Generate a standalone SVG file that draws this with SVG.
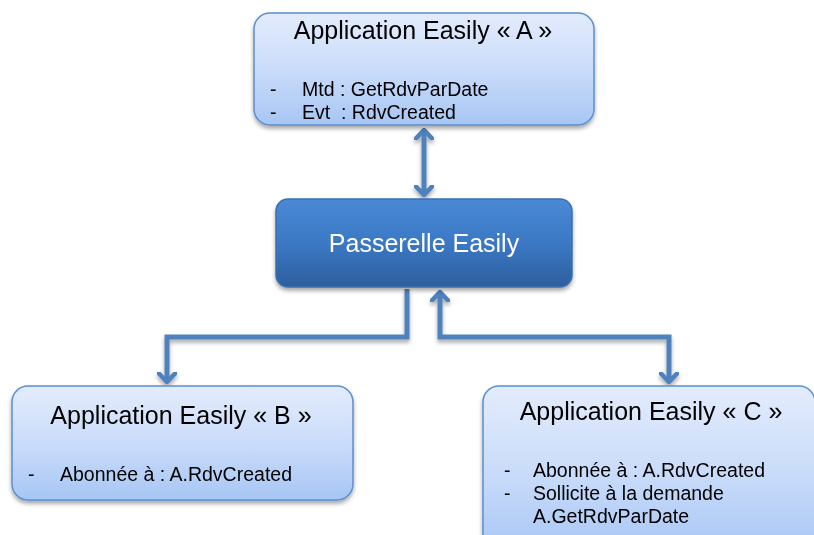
<svg xmlns="http://www.w3.org/2000/svg" width="814" height="535" viewBox="0 0 814 535">
<defs>
<linearGradient id="gLight" x1="0" y1="0" x2="0" y2="1">
<stop offset="0" stop-color="#e3ecfc"/>
<stop offset="0.5" stop-color="#cadcfa"/>
<stop offset="1" stop-color="#a7c6f4"/>
</linearGradient>
<linearGradient id="gDark" x1="0" y1="0" x2="0" y2="1">
<stop offset="0" stop-color="#4a8ad6"/>
<stop offset="0.5" stop-color="#3b78c4"/>
<stop offset="1" stop-color="#2d5f9e"/>
</linearGradient>
<filter id="sh" x="-10%" y="-10%" width="120%" height="130%">
<feGaussianBlur in="SourceAlpha" stdDeviation="2"/>
<feOffset dx="0" dy="3" result="b"/>
<feComponentTransfer><feFuncA type="linear" slope="0.35"/></feComponentTransfer>
<feMerge><feMergeNode/><feMergeNode in="SourceGraphic"/></feMerge>
</filter>
<marker id="ah" viewBox="0 0 12 20" refX="10" refY="10" markerWidth="12" markerHeight="20" markerUnits="userSpaceOnUse" orient="auto-start-reverse">
<path d="M1,1.5 L10,10 L1,18.5" fill="none" stroke="#4f81bd" stroke-width="4.5" stroke-linecap="round" stroke-linejoin="round"/>
</marker>
</defs>
<style>
.light{fill:url(#gLight);stroke:#5b8ed0;stroke-width:1.5;}
.dark{fill:url(#gDark);stroke:#3d6fae;stroke-width:1.5;}
.title{font-family:"Liberation Sans",Arial,sans-serif;font-size:25px;fill:#000;}
.item{font-family:"Liberation Sans",Arial,sans-serif;font-size:19.5px;fill:#000;white-space:pre;}
.white{font-family:"Liberation Sans",Arial,sans-serif;font-size:25px;fill:#fff;}
.conn{fill:none;stroke:#4f81bd;stroke-width:5;stroke-linejoin:miter;}
</style>
<rect width="814" height="535" fill="#fff"/>
<g id="connectors" filter="url(#sh)">
<path class="conn" d="M424,130 L424,195" marker-start="url(#ah)" marker-end="url(#ah)"/>
<path class="conn" d="M407,289 L407,337 L167,337 L167,382" marker-end="url(#ah)"/>
<path class="conn" d="M440,292 L440,337 L669,337 L669,382" marker-start="url(#ah)" marker-end="url(#ah)"/>
</g>
<g id="nodeA" filter="url(#sh)">
<rect class="light" x="254" y="13" width="340" height="112" rx="16"/>
<text class="title" x="423" y="39" text-anchor="middle">Application Easily « A »</text>
<text class="item" x="270" y="96">-</text>
<text class="item" x="302" y="96">Mtd : GetRdvParDate</text>
<text class="item" x="270" y="119">-</text>
<text class="item" x="302" y="119" xml:space="preserve">Evt  : RdvCreated</text>
</g>
<g id="passerelle" filter="url(#sh)">
<rect class="dark" x="276" y="199" width="296" height="88" rx="12"/>
<text class="white" x="424" y="252" text-anchor="middle">Passerelle Easily</text>
</g>
<g id="nodeB" filter="url(#sh)">
<rect class="light" x="12" y="386" width="341" height="114" rx="16"/>
<text class="title" x="181" y="424" text-anchor="middle">Application Easily « B »</text>
<text class="item" x="28" y="481">-</text>
<text class="item" x="60" y="481">Abonnée à : A.RdvCreated</text>
</g>
<g id="nodeC" filter="url(#sh)">
<rect class="light" x="483" y="386" width="332" height="170" rx="16"/>
<text class="title" x="651" y="420" text-anchor="middle">Application Easily « C »</text>
<text class="item" x="504" y="477">-</text>
<text class="item" x="533" y="477">Abonnée à : A.RdvCreated</text>
<text class="item" x="504" y="500">-</text>
<text class="item" x="533" y="500">Sollicite à la demande</text>
<text class="item" x="533" y="523">A.GetRdvParDate</text>
</g>
</svg>
